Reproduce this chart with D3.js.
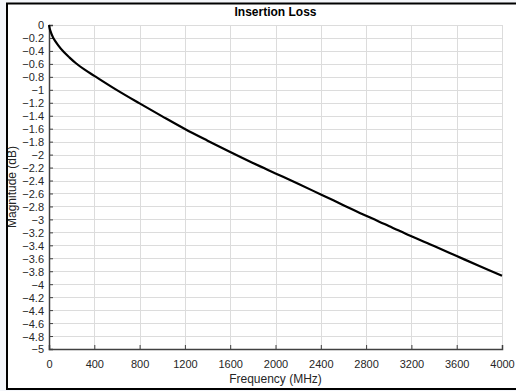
<!DOCTYPE html>
<html><head><meta charset="utf-8">
<script src="https://cdn.jsdelivr.net/npm/d3@7"></script>
<style>body{margin:0;background:#fff}svg{display:block}text{font-family:"Liberation Sans",Arial,sans-serif}</style>
</head><body><svg id="c" width="516" height="391"></svg>
<script>
const freq = [0,10,38,80,127,180,238,315,400,600,800,1000,1200,1400,1600,1800,2000,2200,2400,2600,2800,3000,3200,3400,3600,3800,4000];
const magnitude = [0,-0.08,-0.2,-0.31,-0.41,-0.5,-0.59,-0.69,-0.785,-1.005,-1.21,-1.41,-1.605,-1.785,-1.96,-2.13,-2.29,-2.45,-2.615,-2.78,-2.945,-3.10,-3.26,-3.41,-3.565,-3.72,-3.87];
const xTicks = [0,400,800,1200,1600,2000,2400,2800,3200,3600,4000];
const yTicks = d3.range(0,26).map(i=>-i*0.2);
const title = "Insertion Loss", xLabel = "Frequency (MHz)", yLabel = "Magnitude (dB)";

const svg = d3.select("#c");
const L=49,R=502,T=25,B=349;
svg.append("rect").attr("width",516).attr("height",391).attr("fill","#f4f6fa");
svg.append("rect").attr("x",8).attr("y",4).attr("width",520).attr("height",385).attr("fill","#fff");
const x = d3.scaleLinear().domain([0,4000]).range([L,R]);
const y = d3.scaleLinear().domain([-5,0]).range([B,T]);
const g = svg.append("g");
// grid
g.selectAll(".vg").data(xTicks).join("line").attr("x1",d=>Math.round(x(d))+0.5).attr("x2",d=>Math.round(x(d))+0.5).attr("y1",T).attr("y2",B).attr("stroke","#dcdcdc");
g.selectAll(".hg").data(yTicks).join("line").attr("y1",d=>Math.round(y(d))+0.5).attr("y2",d=>Math.round(y(d))+0.5).attr("x1",L).attr("x2",R).attr("stroke","#dcdcdc");
// y label (clipped by the frame)
svg.append("defs").append("clipPath").attr("id","fc").append("rect").attr("x",8).attr("y",4).attr("width",510).attr("height",385);
svg.append("g").attr("clip-path","url(#fc)").append("text").attr("transform",`translate(16,${(T+B)/2}) rotate(-90)`).attr("text-anchor","middle").style("font-size","12px").attr("fill","#262626").text(yLabel);
// axes
const xa = svg.append("g").attr("transform",`translate(0,${B})`).call(d3.axisBottom(x).tickValues(xTicks).tickSize(-4).tickPadding(11).tickFormat(d3.format("d")));
const ya = svg.append("g").attr("transform",`translate(${L},0)`).call(d3.axisLeft(y).tickValues(yTicks).tickSize(-4).tickPadding(5).tickFormat(d=>Math.abs(d)<1e-9?"0":d3.format("")(+d.toFixed(1))));
[xa,ya].forEach(a=>{a.select(".domain").attr("stroke","#404040").attr("stroke-width",1.5);a.selectAll(".tick line").attr("stroke","#404040");a.selectAll("text").attr("fill","#262626").style("font-size","11px").style("font-family","Liberation Sans, Arial, sans-serif");});
ya.selectAll("text").attr("dy","0.36em");
// curve
const line = d3.line().x((d,i)=>x(freq[i])).y(d=>y(d)).curve(d3.curveCatmullRom);
svg.append("path").datum(magnitude).attr("d",line).attr("fill","none").attr("stroke","#000").attr("stroke-width",2.2);
// labels
svg.append("text").attr("x",(L+R)/2).attr("y",16).attr("text-anchor","middle").style("font-weight","bold").style("font-size","12px").attr("fill","#000").text(title);
svg.append("text").attr("x",(L+R)/2).attr("y",383).attr("text-anchor","middle").style("font-size","12px").attr("fill","#262626").text(xLabel);
// frame
svg.append("rect").attr("x",7).attr("y",3.5).attr("width",520).attr("height",385.5).attr("fill","none").attr("stroke","#000").attr("stroke-width",2);
</script></body></html>
